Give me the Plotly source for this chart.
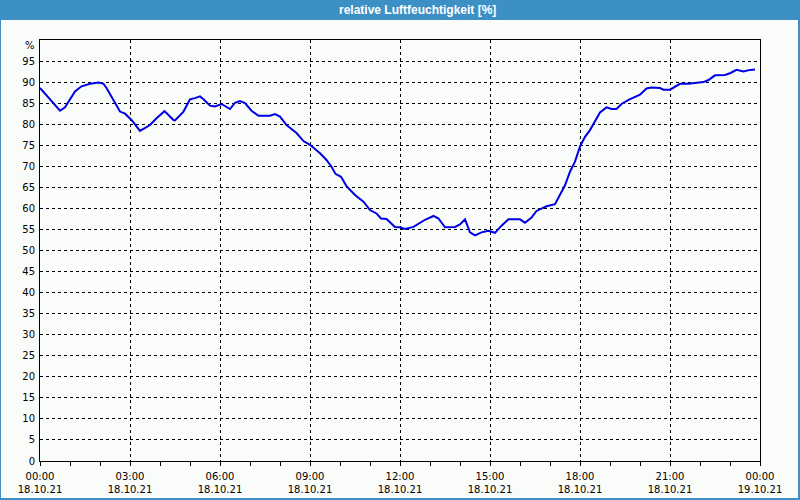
import plotly.graph_objects as go

# --- data ---
times = ["00:00", "00:40", "00:50", "01:10", "01:23", "01:40", "01:57", "02:07", "02:13", "02:27",
         "02:40", "02:50", "03:03", "03:20", "03:40", "03:53", "04:09", "04:27", "04:30", "04:47",
         "05:00", "05:10", "05:20", "05:27", "05:40", "05:50", "06:03", "06:20", "06:30", "06:40",
         "06:50", "07:03", "07:17", "07:40", "07:50", "08:00", "08:13", "08:33", "08:47", "09:00",
         "09:20", "09:33", "09:43", "09:51", "10:02", "10:13", "10:30", "10:47", "11:00", "11:13",
         "11:22", "11:33", "11:50", "12:00", "12:10", "12:27", "12:50", "13:07", "13:17", "13:30",
         "13:50", "14:00", "14:10", "14:20", "14:30", "14:43", "14:57", "15:10", "15:23", "15:37",
         "16:00", "16:10", "16:23", "16:33", "16:53", "17:10", "17:20", "17:30", "17:40", "17:50",
         "18:00", "18:10", "18:20", "18:30", "18:40", "18:53", "19:03", "19:13", "19:23", "19:37",
         "19:50", "20:00", "20:13", "20:23", "20:40", "20:47", "21:00", "21:10", "21:20", "21:37",
         "21:57", "22:07", "22:17", "22:30", "22:50", "23:00", "23:13", "23:27", "23:40", "23:50"]
humidity = [88.6, 83.2, 84.0, 87.8, 89.0, 89.6, 89.9, 89.6, 88.6, 85.8,
            83.0, 82.5, 81.0, 78.4, 79.8, 81.4, 83.1, 81.0, 80.9, 83.0,
            85.9, 86.2, 86.6, 85.9, 84.4, 84.2, 84.8, 83.6, 85.1, 85.5,
            85.0, 83.2, 82.0, 82.0, 82.4, 81.8, 79.8, 77.9, 76.0, 75.1,
            73.1, 71.5, 69.9, 68.2, 67.5, 65.3, 63.2, 61.6, 59.6, 58.8,
            57.6, 57.5, 55.6, 55.5, 55.1, 55.6, 57.3, 58.2, 57.6, 55.5,
            55.6, 56.2, 57.4, 54.3, 53.6, 54.3, 54.7, 54.2, 55.9, 57.4,
            57.4, 56.6, 57.8, 59.4, 60.5, 61.0, 63.2, 65.5, 68.7, 71.1,
            74.7, 77.0, 78.6, 80.6, 82.8, 84.0, 83.6, 83.6, 84.8, 85.8,
            86.4, 87.0, 88.5, 88.7, 88.6, 88.2, 88.2, 89.0, 89.6, 89.6,
            89.8, 90.0, 90.5, 91.6, 91.7, 92.1, 92.9, 92.5, 92.9, 93.0]
date = "2021-10-18"
x_ticks = ["2021-10-18 00:00", "2021-10-18 03:00", "2021-10-18 06:00", "2021-10-18 09:00",
           "2021-10-18 12:00", "2021-10-18 15:00", "2021-10-18 18:00", "2021-10-18 21:00",
           "2021-10-19 00:00"]
x_ticktext = ["00:00<br>18.10.21", "03:00<br>18.10.21", "06:00<br>18.10.21", "09:00<br>18.10.21",
              "12:00<br>18.10.21", "15:00<br>18.10.21", "18:00<br>18.10.21", "21:00<br>18.10.21",
              "00:00<br>19.10.21"]
y_ticks = list(range(0, 100, 5))
title = "relative Luftfeuchtigkeit [%]"

x = [f"{date} {t}" for t in times]

W, H = 800, 500
L, R, T, B = 40, 40, 40, 39
pw, ph = W - L - R, H - T - B

def px_x(p):
    return (p - L) / pw

def px_y(p):
    return (H - B - p) / ph

BLUE = "#3c90c6"
BG = "#fafcfa"
FONT = "DejaVu Sans"

fig = go.Figure()
fig.add_trace(go.Scatter(x=x, y=humidity, mode="lines",
                         line=dict(color="#0000e6", width=2), hoverinfo="skip"))

fig.update_layout(
    width=W, height=H, margin=dict(l=L, r=R, t=T, b=B, autoexpand=False),
    paper_bgcolor=BLUE, plot_bgcolor=BG, showlegend=False,
    font=dict(family=FONT, size=10, color="#000000"),
    xaxis=dict(type="date", range=["2021-10-18 00:00", "2021-10-19 00:00"],
               tickmode="array", tickvals=x_ticks, ticktext=x_ticktext,
               ticks="outside", ticklen=4, tickcolor="#000000",
               showgrid=True, gridcolor="#000000", gridwidth=1, griddash="3px,3px",
               showline=True, linecolor="#000000", linewidth=1, mirror=True,
               zeroline=False, tickangle=0, ticklabelstandoff=2,
               minor=dict(dtick=3600000, ticks="outside", ticklen=4, tickcolor="#000000",
                          showgrid=False)),
    yaxis=dict(range=[0, 100], tickmode="array", tickvals=y_ticks,
               showgrid=True, gridcolor="#000000", gridwidth=1, griddash="3px,3px",
               showline=True, linecolor="#000000", linewidth=1, mirror=True,
               zeroline=False, ticks="", ticklabelstandoff=2),
    shapes=[dict(type="rect", xref="paper", yref="paper", layer="below",
                 x0=px_x(1), x1=px_x(798), y0=px_y(498), y1=px_y(20),
                 fillcolor=BG, line=dict(width=0))],
    annotations=[
        dict(text=title, xref="paper", yref="paper", x=px_x(417), y=px_y(10),
             xanchor="center", yanchor="middle", showarrow=False,
             font=dict(family="Liberation Sans", size=12, color="#ffffff", weight="bold")),
        dict(text="%", xref="paper", yref="paper", x=px_x(37), y=px_y(45),
             xanchor="right", yanchor="middle", showarrow=False,
             font=dict(family=FONT, size=10, color="#000000")),
    ],
)

fig.write_html("out.html")
